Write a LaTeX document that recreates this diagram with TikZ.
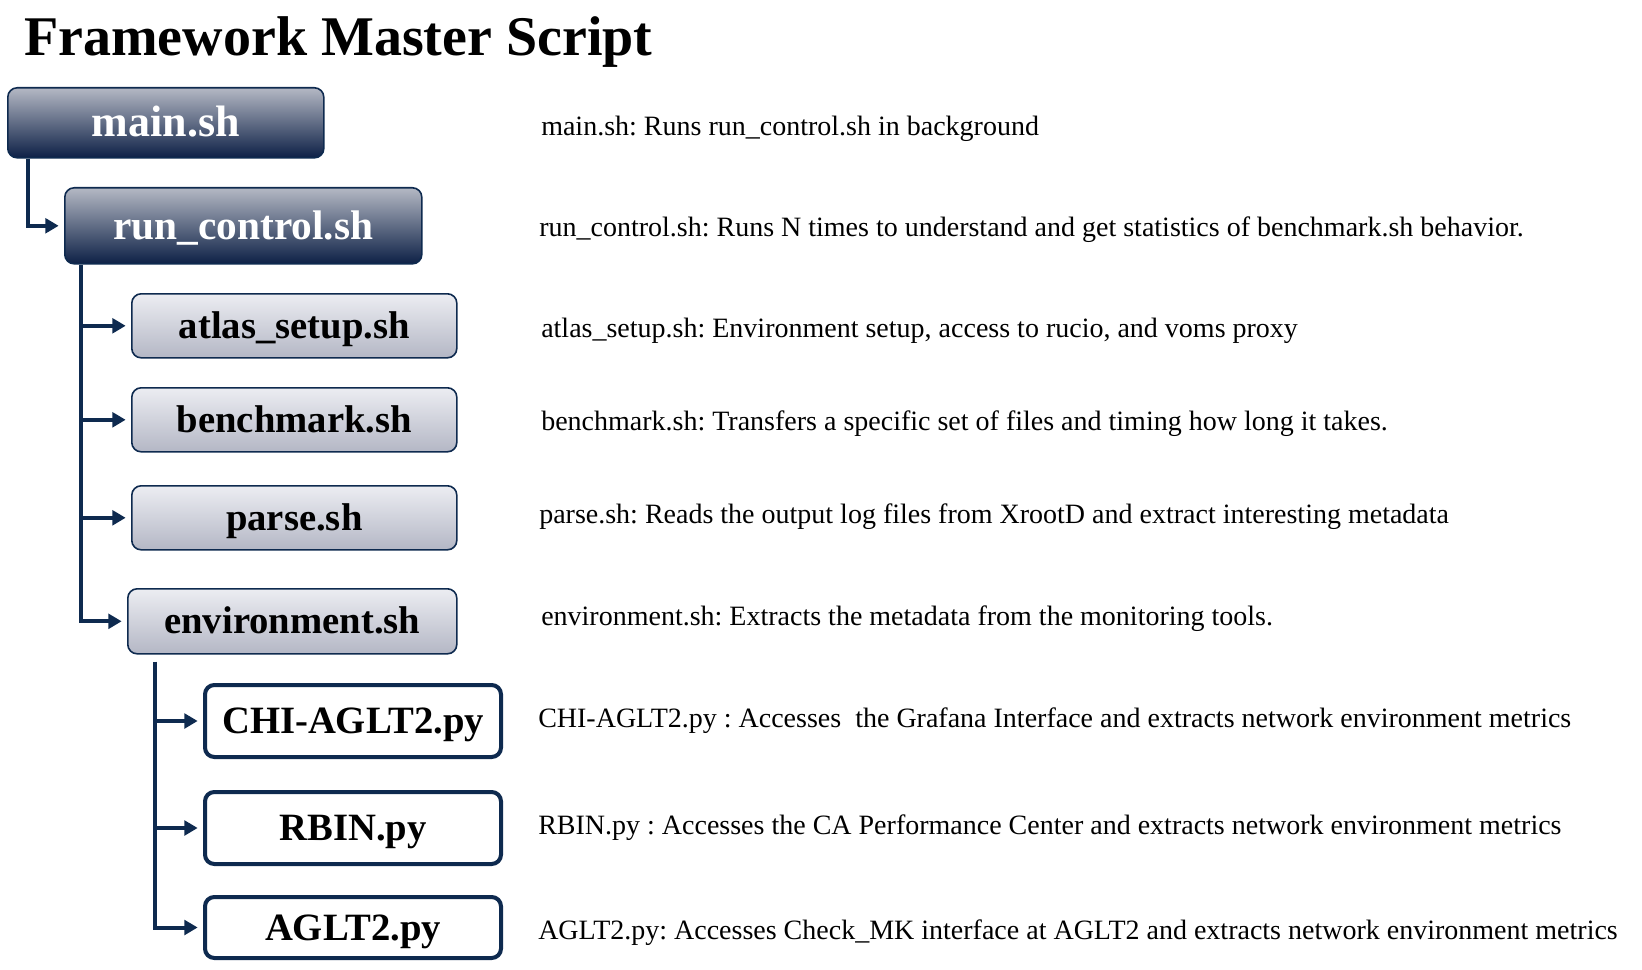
\documentclass[tikz,border=0pt]{standalone}
\usepackage{fontspec}
\setmainfont{Liberation Serif}
\usetikzlibrary{calc,positioning,arrows.meta}
\frenchspacing

\definecolor{navy}{HTML}{0E2A4F}
\definecolor{darktop}{HTML}{B4B8C4}
\definecolor{darkbot}{HTML}{0D2046}
\definecolor{lighttop}{HTML}{ECEDF2}
\definecolor{lightbot}{HTML}{B4B7C5}

\begin{document}
\begin{tikzpicture}[x=0.75pt, y=-0.75pt, >={Triangle[length=10pt,width=11pt]},
    box/.style={rounded corners=7pt, anchor=north west, inner sep=0pt, align=center,
      text depth=0pt, draw=navy},
    darkbox/.style={box, line width=1.2pt, top color=darktop, bottom color=darkbot,
      text=white, text height=20.5pt, font=\fontsize{31}{31}\selectfont\bfseries},
    lightbox/.style={box, line width=1.2pt, top color=lighttop, bottom color=lightbot,
      text height=19pt, font=\fontsize{29}{29}\selectfont\bfseries},
    pybox/.style={box, line width=3pt, fill=white, text height=19pt,
      font=\fontsize{29}{29}\selectfont\bfseries},
    desc/.style={anchor=base west, inner sep=0pt, font=\fontsize{21}{21}\selectfont},
    conn/.style={->, draw=navy, line width=3pt, shorten >=4pt}]
  \useasboundingbox (0,0) rectangle (1642,970);

  \node[anchor=base west, inner sep=0pt, font=\fontsize{42}{42}\selectfont\bfseries]
    (title) at (24,56) {Framework Master Script};

  % script boxes
  \node[darkbox, minimum width=237pt, minimum height=52.5pt,
    font=\fontsize{33}{33}\selectfont\bfseries] (main) at (7,87) {main.sh};
  \node[darkbox, minimum width=267.75pt, minimum height=57pt] (run) at (64,187) {run\_control.sh};
  \node[lightbox, minimum width=243.75pt, minimum height=48pt] (atlas) at (131,293) {atlas\_setup.sh};
  \node[lightbox, minimum width=243.75pt, minimum height=48pt] (bench) at (131,387) {benchmark.sh};
  \node[lightbox, minimum width=243.75pt, minimum height=48pt] (parse) at (131,485) {parse.sh};
  \node[lightbox, minimum width=246.75pt, minimum height=48.75pt] (env) at (127,588) {environment.sh};
  \node[pybox, minimum width=222pt, minimum height=54pt] (chi) at (203,683) {CHI-AGLT2.py};
  \node[pybox, minimum width=222pt, minimum height=54pt] (rbin) at (203,790) {RBIN.py};
  \node[pybox, minimum width=222pt, minimum height=45.75pt] (aglt) at (203,895) {AGLT2.py};

  % main.sh starts run_control.sh
  \draw[conn] ($(main.south west)+(21,0)$) |- (run.west);

  % run_control.sh calls the shell scripts
  \coordinate (t2) at ($(run.south west)+(17,0)$);
  \draw[conn] (t2) |- (env.west);
  \foreach \n in {atlas,bench,parse}
    \draw[conn] (t2 |- \n.west) -- (\n.west);

  % environment.sh calls the python scripts
  \coordinate (t3) at ($(env.south west)+(28,7)$);
  \draw[conn] (t3) |- (aglt.west);
  \foreach \n in {chi,rbin}
    \draw[conn] (t3 |- \n.west) -- (\n.west);

  % descriptions
  \node[desc] (dmain) at (541,136) {main.sh: Runs run\_control.sh in background};
  \node[desc] (drun) at (539,236) {run\_control.sh: Runs N times to understand and get statistics of benchmark.sh behavior.};
  \node[desc] (datlas) at (541,337) {atlas\_setup.sh: Environment setup, access to rucio, and voms proxy};
  \node[desc] (dbench) at (541,430) {benchmark.sh: Transfers a specific set of files and timing how long it takes.};
  \node[desc] (dparse) at (539,523) {parse.sh: Reads the output log files from XrootD and extract interesting metadata};
  \node[desc] (denv) at (541,625) {environment.sh: Extracts the metadata from the monitoring tools.};
  \node[desc] (dchi) at (538,727) {CHI-AGLT2.py : Accesses~ the Grafana Interface and extracts network environment metrics};
  \node[desc] (drbin) at (538,834) {RBIN.py : Accesses the CA Performance Center and extracts network environment metrics};
  \node[desc] (daglt) at (538,939) {AGLT2.py: Accesses Check\_MK interface at AGLT2 and extracts network environment metrics};
\end{tikzpicture}
\end{document}
